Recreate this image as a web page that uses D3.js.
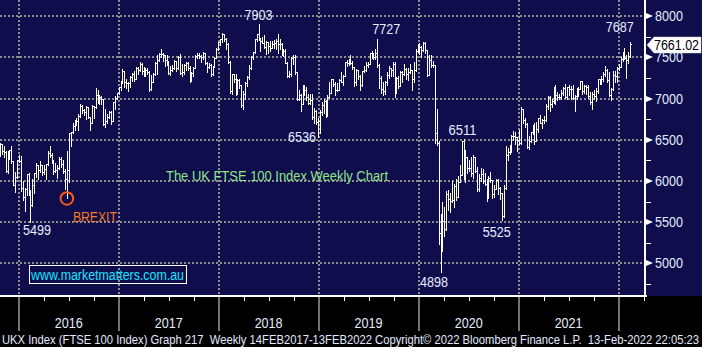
<!DOCTYPE html>
<html>
<head>
<meta charset="utf-8">
<script src="https://cdn.jsdelivr.net/npm/d3@7"></script>
<style>
  html, body { margin: 0; padding: 0; background: #000; }
  svg { display: block; }
  text { font-family: "Liberation Sans", Arial, sans-serif; }
</style>
</head>
<body>
<svg id="chart" width="702" height="347"></svg>
<script>
// FTSE 100 weekly bars (week-ending), first bar week of 23 Oct 2015
const firstWeek = new Date(2015, 9, 23);
const firstOpen = 6380;

const close2015 = [6444, 6361, 6353, 6118, 6334, 6375, 6238, 5952, 6052, 6254, 6242];
const high2015  = [6460, 6450, 6420, 6360, 6360, 6380, 6420, 6240, 6110, 6260, 6315];
const low2015   = [6300, 6330, 6290, 6110, 6100, 6270, 6220, 5950, 5870, 6040, 6230];

const close2016 = [5912, 5804, 5900, 6083, 5848, 5707, 5950, 6097, 6199, 6139, 6189, 6106, 6146, 6204, 6343, 6310, 6242, 6125, 6138, 6156, 6270, 6209, 6116, 6021, 6138, 6577, 6590, 6669, 6730, 6724, 6793, 6916, 6859, 6838, 6895, 6777, 6710, 6909, 6899, 7044, 7014, 7020, 6996, 6693, 6730, 6775, 6840, 6730, 6954, 7011, 7068, 7143];
const high2016  = [6300, 6000, 5910, 6090, 6100, 5890, 6030, 6100, 6220, 6200, 6240, 6200, 6190, 6210, 6360, 6420, 6340, 6250, 6220, 6200, 6290, 6290, 6250, 6150, 6360, 6580, 6600, 6710, 6740, 6760, 6810, 6940, 6920, 6880, 6910, 6900, 6780, 6920, 6910, 7130, 7100, 7040, 7030, 6960, 6870, 6810, 6850, 6850, 6960, 7030, 7070, 7145];
const low2016   = [5880, 5770, 5639, 5830, 5830, 5499, 5700, 5860, 6050, 6030, 6110, 6070, 6090, 6030, 6190, 6290, 6220, 6080, 6110, 6040, 6150, 6170, 6100, 5900, 5788, 5990, 6420, 6580, 6620, 6680, 6620, 6780, 6820, 6800, 6750, 6770, 6620, 6700, 6760, 6890, 6950, 6930, 6930, 6680, 6660, 6710, 6760, 6690, 6740, 6880, 6990, 7060];

const close2017 = [7210, 7338, 7198, 7184, 7188, 7258, 7300, 7244, 7374, 7343, 7425, 7337, 7323, 7349, 7328, 7115, 7204, 7297, 7435, 7470, 7547, 7548, 7527, 7464, 7424, 7313, 7350, 7378, 7453, 7368, 7511, 7310, 7324, 7407, 7438, 7377, 7215, 7311, 7373, 7522, 7535, 7523, 7505, 7560, 7433, 7380, 7409, 7300, 7394, 7490, 7603, 7688];
const high2017  = [7220, 7355, 7340, 7240, 7200, 7270, 7310, 7340, 7380, 7380, 7450, 7430, 7380, 7370, 7370, 7340, 7290, 7310, 7450, 7530, 7550, 7598, 7560, 7530, 7530, 7460, 7400, 7410, 7470, 7460, 7520, 7540, 7420, 7420, 7450, 7450, 7400, 7320, 7380, 7530, 7560, 7550, 7530, 7570, 7560, 7440, 7430, 7420, 7400, 7500, 7610, 7690];
const low2017   = [7100, 7190, 7140, 7130, 7090, 7140, 7220, 7220, 7240, 7300, 7340, 7300, 7280, 7280, 7300, 7090, 7100, 7200, 7290, 7300, 7460, 7500, 7460, 7400, 7410, 7300, 7290, 7330, 7360, 7340, 7360, 7300, 7280, 7300, 7350, 7350, 7200, 7210, 7280, 7370, 7490, 7490, 7440, 7480, 7420, 7320, 7370, 7270, 7290, 7380, 7490, 7590];

const close2018 = [7724, 7779, 7730, 7666, 7443, 7092, 7294, 7244, 7070, 7224, 7164, 6922, 7057, 7184, 7265, 7368, 7502, 7567, 7724, 7779, 7730, 7701, 7681, 7633, 7682, 7637, 7617, 7662, 7678, 7701, 7659, 7667, 7559, 7577, 7432, 7277, 7304, 7490, 7510, 7318, 6996, 7049, 6940, 7094, 7105, 7014, 6953, 6980, 6778, 6845, 6721, 6733];
const high2018  = [7730, 7792, 7790, 7740, 7680, 7460, 7300, 7300, 7300, 7240, 7240, 7170, 7090, 7200, 7270, 7410, 7520, 7570, 7730, 7790, 7903, 7740, 7750, 7770, 7700, 7690, 7700, 7700, 7710, 7720, 7780, 7720, 7680, 7600, 7600, 7440, 7340, 7500, 7530, 7530, 7320, 7110, 7060, 7160, 7170, 7140, 7060, 7060, 7060, 6890, 6860, 6760];
const low2018   = [7650, 7690, 7700, 7600, 7430, 7070, 7060, 7200, 7040, 7060, 7130, 6900, 6870, 7000, 7150, 7240, 7360, 7480, 7560, 7700, 7710, 7580, 7670, 7620, 7540, 7550, 7580, 7610, 7620, 7600, 7550, 7600, 7530, 7520, 7430, 7260, 7260, 7280, 7420, 7300, 6980, 6980, 6850, 6970, 7050, 6980, 6940, 6940, 6750, 6700, 6690, 6536];

const close2019 = [6837, 6918, 6968, 6809, 7020, 7071, 7237, 7178, 7106, 7104, 7228, 7208, 7279, 7446, 7437, 7460, 7428, 7380, 7203, 7348, 7277, 7162, 7331, 7346, 7407, 7426, 7553, 7506, 7508, 7549, 7407, 7254, 7117, 7095, 7207, 7282, 7367, 7345, 7426, 7155, 7247, 7151, 7324, 7302, 7359, 7303, 7326, 7347, 7240, 7353, 7582, 7645];
const high2019  = [6860, 6960, 6990, 6980, 7040, 7200, 7240, 7240, 7200, 7190, 7240, 7320, 7290, 7450, 7470, 7480, 7530, 7460, 7380, 7360, 7350, 7290, 7340, 7400, 7440, 7440, 7560, 7580, 7560, 7600, 7727, 7420, 7270, 7200, 7220, 7320, 7400, 7370, 7440, 7440, 7260, 7270, 7330, 7340, 7420, 7370, 7370, 7420, 7350, 7440, 7600, 7660];
const low2019   = [6580, 6800, 6830, 6780, 6790, 7010, 7070, 7150, 7050, 7090, 7100, 7200, 7160, 7280, 7400, 7410, 7420, 7360, 7150, 7160, 7240, 7110, 7150, 7320, 7330, 7380, 7440, 7490, 7480, 7480, 7380, 7130, 7070, 7040, 7060, 7160, 7250, 7270, 7280, 7020, 7070, 7130, 7150, 7200, 7290, 7240, 7230, 7310, 7100, 7200, 7340, 7570];

const close2020 = [7622, 7588, 7675, 7586, 7286, 7467, 7409, 7404, 6581, 6463, 5367, 5190, 5510, 5416, 5843, 5787, 5752, 5763, 5936, 5800, 5993, 6077, 6484, 6105, 6293, 6159, 6157, 6095, 6290, 6124, 5898, 6032, 6090, 6002, 5964, 5799, 6032, 6007, 5843, 5902, 6016, 5919, 5860, 5577, 5910, 6316, 6351, 6367, 6550, 6546, 6529, 6502, 6461];
const high2020  = [7680, 7640, 7690, 7690, 7590, 7530, 7530, 7460, 7410, 6880, 6480, 5600, 5740, 5690, 5880, 5890, 5850, 6000, 5960, 6020, 6060, 6200, 6490, 6511, 6380, 6290, 6250, 6290, 6310, 6280, 6170, 6080, 6160, 6140, 6100, 6030, 6060, 6110, 6010, 5950, 6030, 6030, 5930, 5860, 5950, 6420, 6400, 6440, 6560, 6610, 6590, 6540, 6620];
const low2020   = [7540, 7500, 7580, 7550, 7270, 7290, 7390, 7380, 6460, 6440, 5237, 4898, 5150, 5330, 5400, 5650, 5620, 5740, 5690, 5770, 5830, 5990, 6070, 6030, 5990, 6100, 6120, 6060, 6040, 6110, 5880, 5880, 6000, 5970, 5950, 5760, 5800, 5990, 5790, 5800, 5900, 5840, 5780, 5525, 5560, 5900, 6250, 6330, 6350, 6500, 6450, 6360, 6450];

const close2021 = [6873, 6736, 6695, 6407, 6489, 6589, 6624, 6483, 6631, 6761, 6709, 6741, 6737, 6916, 7020, 6938, 6970, 7130, 7044, 7018, 7023, 7069, 7134, 7017, 7136, 7123, 7121, 7008, 7027, 7032, 7122, 7218, 7087, 7148, 7138, 7029, 6964, 7051, 7027, 7095, 7234, 7205, 7238, 7304, 7348, 7224, 7044, 7122, 7292, 7270, 7373, 7385];
const high2021  = [6900, 6880, 6760, 6700, 6550, 6600, 6680, 6700, 6720, 6770, 6800, 6750, 6790, 6930, 7030, 7030, 7000, 7140, 7160, 7080, 7060, 7110, 7140, 7180, 7140, 7170, 7150, 7170, 7040, 7130, 7140, 7220, 7220, 7160, 7170, 7170, 7080, 7080, 7110, 7130, 7240, 7240, 7280, 7320, 7400, 7360, 7320, 7130, 7330, 7340, 7380, 7420];
const low2021   = [6450, 6700, 6650, 6400, 6390, 6470, 6570, 6450, 6480, 6600, 6700, 6640, 6700, 6730, 6880, 6850, 6900, 6950, 6930, 6980, 6990, 7000, 7050, 7010, 7000, 7050, 7000, 7000, 6850, 7000, 7030, 7120, 7060, 7070, 7060, 7010, 6940, 6870, 6990, 6970, 7070, 7180, 7180, 7220, 7270, 7200, 7030, 6980, 7100, 7200, 7200, 7350];

const close2022 = [7485, 7543, 7494, 7466, 7516, 7661.02];
const high2022  = [7510, 7570, 7610, 7530, 7570, 7687];
const low2022   = [7380, 7460, 7480, 7250, 7430, 7500];

// axis values
const priceTicks = [5000, 5500, 6000, 6500, 7000, 7500, 8000];
const priceMinorTicks = [4750, 5250, 5750, 6250, 6750, 7250, 7750];
const yearLabels = [2016, 2017, 2018, 2019, 2020, 2021];

// annotated highs / lows: value, which side of the bar, label offset
const notes = [
  { text: "7903", value: 7903, field: "high", dx: 0,     dy: -9 },
  { text: "7727", value: 7727, field: "high", dx: 9,     dy: -10 },
  { text: "6536", value: 6536, field: "low",  dx: -16,   dy: 0 },
  { text: "6511", value: 6511, field: "high", dx: -1,    dy: -9 },
  { text: "7687", value: 7687, field: "high", dx: -10.5, dy: -15 },
  { text: "5499", value: 5499, field: "low",  dx: 6.5,   dy: 8 },
  { text: "4898", value: 4898, field: "low",  dx: -6.5,  dy: 10 },
  { text: "5525", value: 5525, field: "low",  dx: -5,    dy: 12 }
];
const brexitLow = 5788;

const titleText = "The UK FTSE 100 Index Weekly Chart";
const siteText = "www.marketmatters.com.au";
const footerText = "UKX Index (FTSE 100 Index) Graph 217  Weekly 14FEB2017-13FEB2022 Copyright\u00A9 2022 Bloomberg Finance L.P.  13-Feb-2022 22:05:23";

// ---------- build bars ----------
const closes = [].concat(close2015, close2016, close2017, close2018, close2019, close2020, close2021, close2022);
const highs  = [].concat(high2015, high2016, high2017, high2018, high2019, high2020, high2021, high2022);
const lows   = [].concat(low2015, low2016, low2017, low2018, low2019, low2020, low2021, low2022);

const bars = closes.map((c, i) => ({
  date: d3.timeDay.offset(firstWeek, 7 * i),
  open: i ? closes[i - 1] : firstOpen,
  high: highs[i],
  low: lows[i],
  close: c
}));

// ---------- layout ----------
const W = 702, H = 347;
const plotRight = 645, plotBottom = 296;
const navy = "#0f0d4b";
const grid = "#8e8e8e";
const labelColor = "#e4ecff";

const x = d3.scaleTime()
  .domain([new Date(2016, 0, 1), new Date(2022, 0, 1)])
  .range([19, 619]);
const y = d3.scaleLinear().domain([4603, 8198]).range([plotBottom, 0]);

const svg = d3.select("#chart");
svg.append("rect").attr("width", W).attr("height", H).attr("fill", "#000");
svg.append("rect").attr("width", W).attr("height", plotBottom).attr("fill", navy);

// dotted grid
const gGrid = svg.append("g")
  .attr("stroke", grid).attr("stroke-width", 2).attr("stroke-dasharray", "2,2");
gGrid.selectAll("line.h").data(priceTicks).join("line")
  .attr("class", "h")
  .attr("x1", 0).attr("x2", plotRight - 1)
  .attr("y1", d => Math.round(y(d))).attr("y2", d => Math.round(y(d)));
const yearStarts = d3.range(2016, 2023).map(yr => new Date(yr, 0, 1));
gGrid.selectAll("line.v").data(yearStarts).join("line")
  .attr("class", "v")
  .attr("x1", d => Math.round(x(d))).attr("x2", d => Math.round(x(d)))
  .attr("y1", 0).attr("y2", plotBottom);

// OHLC bars
const gBars = svg.append("g").attr("fill", "#fff").attr("shape-rendering", "crispEdges");
bars.forEach(b => {
  const bx = Math.round(x(b.date));
  const top = Math.round(y(Math.max(b.high, b.open, b.close)));
  const bot = Math.round(y(Math.min(b.low, b.open, b.close)));
  gBars.append("rect").attr("x", bx).attr("y", top).attr("width", 1).attr("height", Math.max(1, bot - top + 1));
  gBars.append("rect").attr("x", bx - 1).attr("y", Math.round(y(b.open))).attr("width", 1).attr("height", 1);
  gBars.append("rect").attr("x", bx + 1).attr("y", Math.round(y(b.close))).attr("width", 1).attr("height", 1);
});

// frame lines
svg.append("rect").attr("x", 0).attr("y", plotBottom - 1).attr("width", plotRight + 2).attr("height", 2).attr("fill", "#fff");
svg.append("rect").attr("x", plotRight - 1).attr("y", 0).attr("width", 2).attr("height", plotBottom + 1).attr("fill", "#fff");

// right price axis
const gY = svg.append("g");
gY.selectAll("path.major").data(priceTicks).join("path")
  .attr("class", "major")
  .attr("fill", "#fff")
  .attr("d", d => { const v = Math.round(y(d)); return `M${plotRight + 1},${v - 3}L${plotRight + 8},${v}L${plotRight + 1},${v + 3}Z`; });
gY.selectAll("line.minor").data(priceMinorTicks).join("line")
  .attr("class", "minor")
  .attr("stroke", "#fff").attr("stroke-width", 1)
  .attr("x1", plotRight + 1).attr("x2", plotRight + 6)
  .attr("y1", d => Math.round(y(d)) + 0.5).attr("y2", d => Math.round(y(d)) + 0.5);
gY.selectAll("text").data(priceTicks).join("text")
  .attr("x", 655).attr("y", d => y(d) + 5)
  .attr("fill", labelColor).attr("font-size", 14)
  .attr("textLength", 28).attr("lengthAdjust", "spacingAndGlyphs")
  .text(d => d);

// last price tag
const last = bars[bars.length - 1];
const ly = Math.round(y(last.close)) + 1;
svg.append("path")
  .attr("fill", "#fff").attr("stroke", "#cfcfcf").attr("stroke-width", 0.5)
  .attr("d", `M${plotRight + 2},${ly}L${plotRight + 9},${ly - 8}L${W - 1},${ly - 8}L${W - 1},${ly + 8}L${plotRight + 9},${ly + 8}Z`);
svg.append("text")
  .attr("x", 654).attr("y", ly + 5)
  .attr("fill", "#000").attr("font-size", 14)
  .attr("textLength", 45).attr("lengthAdjust", "spacingAndGlyphs")
  .text(d3.format(".2f")(last.close));

// bottom time axis
const gX = svg.append("g");
gX.selectAll("line.year").data(yearStarts).join("line")
  .attr("class", "year")
  .attr("stroke", "#9a9a9a").attr("stroke-width", 1.5)
  .attr("x1", d => Math.round(x(d))).attr("x2", d => Math.round(x(d)))
  .attr("y1", plotBottom + 1).attr("y2", 331);
const quarters = d3.timeMonth.every(3).range(new Date(2015, 9, 1), new Date(2022, 6, 1))
  .filter(d => d.getMonth() !== 0);
gX.selectAll("line.q").data(quarters).join("line")
  .attr("class", "q")
  .attr("stroke", "#fff").attr("stroke-width", 1)
  .attr("x1", d => Math.round(x(d)) + 0.5).attr("x2", d => Math.round(x(d)) + 0.5)
  .attr("y1", plotBottom + 1).attr("y2", plotBottom + 5);
gX.selectAll("text").data(yearLabels).join("text")
  .attr("x", d => x(new Date(d, 6, 1))).attr("y", 328)
  .attr("text-anchor", "middle")
  .attr("fill", labelColor).attr("font-size", 14)
  .attr("textLength", 28).attr("lengthAdjust", "spacingAndGlyphs")
  .text(d => d);

// high / low annotations
const gNotes = svg.append("g");
notes.forEach(n => {
  const bar = bars.find(b => b[n.field] === n.value);
  gNotes.append("text")
    .attr("x", x(bar.date) + n.dx)
    .attr("y", y(n.value) + n.dy + 5)
    .attr("text-anchor", "middle")
    .attr("fill", labelColor).attr("font-size", 14)
    .attr("textLength", 28).attr("lengthAdjust", "spacingAndGlyphs")
    .text(n.text);
});

// Brexit marker
const brexitBar = bars.find(b => b.low === brexitLow);
const bxC = x(brexitBar.date), byC = y(brexitLow);
svg.append("circle")
  .attr("cx", bxC).attr("cy", byC).attr("r", 6.3)
  .attr("fill", "none").attr("stroke", "#ff5a14").attr("stroke-width", 2);
svg.append("text")
  .attr("x", bxC + 6).attr("y", byC + 24)
  .attr("fill", "#f47a22").attr("font-size", 15)
  .attr("textLength", 44).attr("lengthAdjust", "spacingAndGlyphs")
  .text("BREXIT");

// chart title
svg.append("text")
  .attr("x", 166).attr("y", 181)
  .attr("fill", "#8fe486").attr("font-size", 14)
  .attr("textLength", 222).attr("lengthAdjust", "spacingAndGlyphs")
  .text(titleText);

// site box
svg.append("rect")
  .attr("x", 29.5).attr("y", 265.5).attr("width", 157).attr("height", 18)
  .attr("fill", "none").attr("stroke", "#fff").attr("stroke-width", 1);
svg.append("text")
  .attr("x", 31).attr("y", 280)
  .attr("fill", "#19e6ff").attr("font-size", 14)
  .attr("textLength", 153).attr("lengthAdjust", "spacingAndGlyphs")
  .text(siteText);

// footer
svg.append("text")
  .attr("x", 2).attr("y", 343.5)
  .attr("fill", "#e2eaff").attr("font-size", 13)
  .style("white-space", "pre")
  .attr("textLength", 697).attr("lengthAdjust", "spacingAndGlyphs")
  .text(footerText);
</script>
</body>
</html>
